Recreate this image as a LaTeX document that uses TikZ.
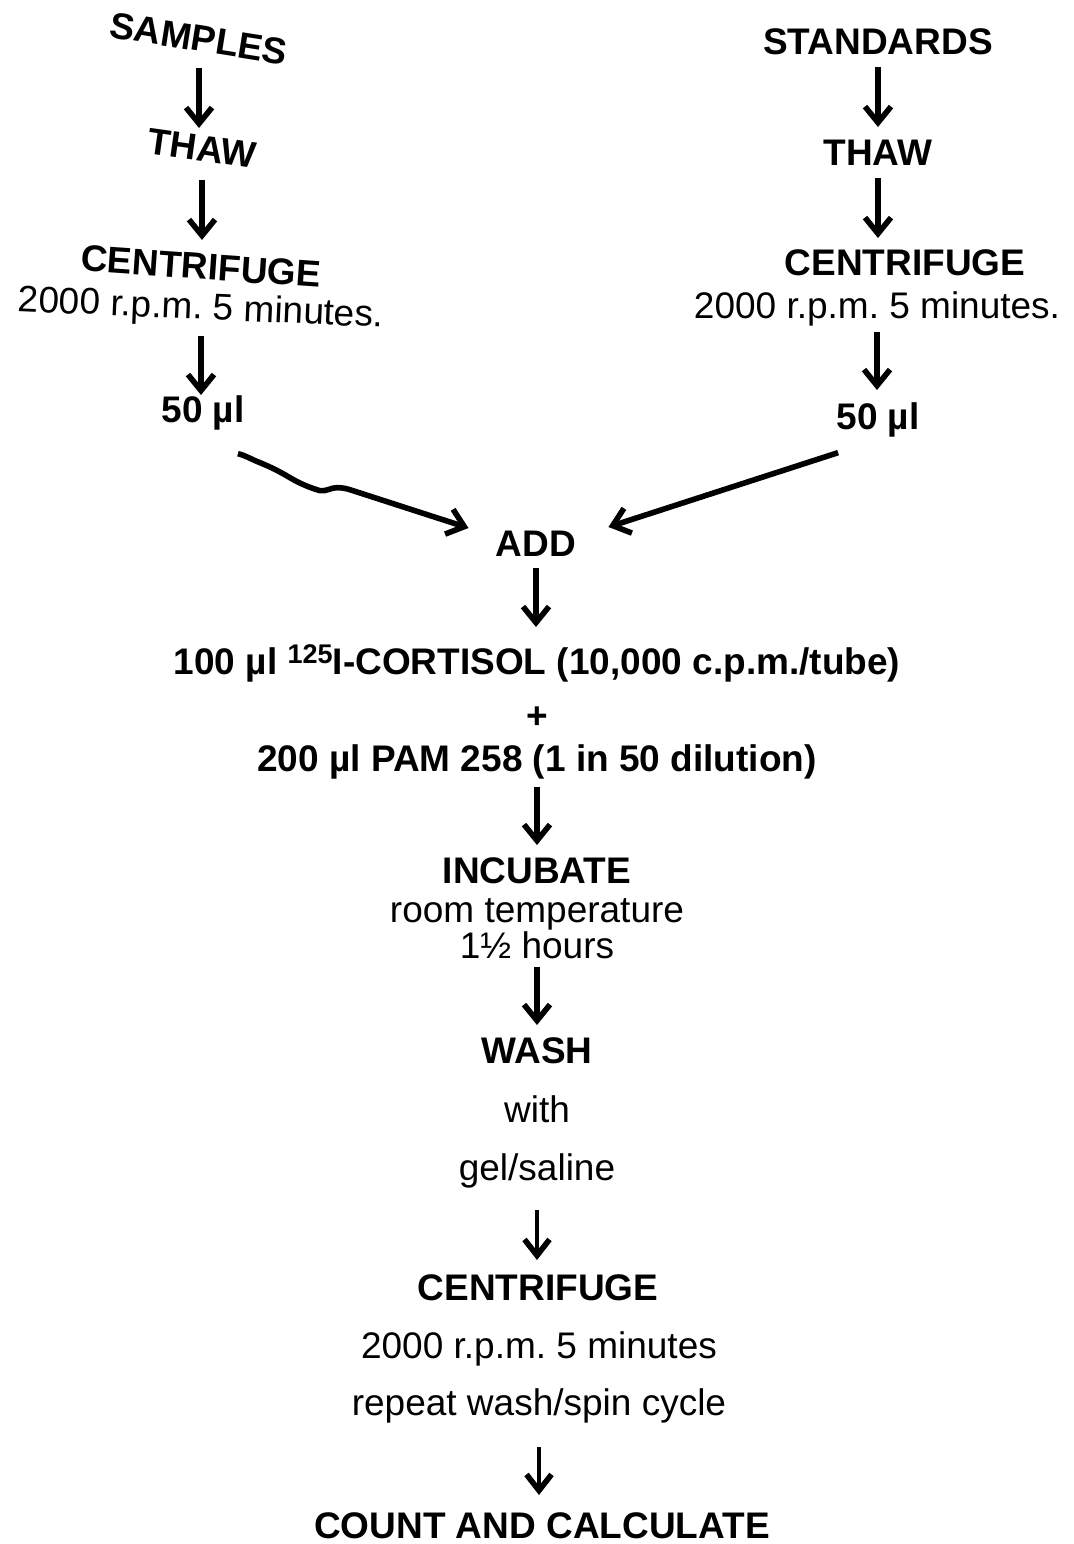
\documentclass[tikz,border=0pt]{standalone}
\usepackage{fontspec}
\setmainfont{Liberation Sans}
\usetikzlibrary{arrows.meta}
\frenchspacing

\tikzset{
  lbl/.style={font=\fontsize{18.5}{22}\selectfont\bfseries, inner sep=0pt, text height=13.25pt, text depth=0pt},
  txt/.style={font=\fontsize{18.5}{22}\selectfont, inner sep=0pt, text height=13.25pt, text depth=0pt},
  flow/.style={-{Straight Barb[length=8pt,width=13pt]}, line width=2.8pt},
  thinflow/.style={-{Straight Barb[length=8pt,width=12.5pt,line width=2.8pt]}, line width=1.9pt}
}

\begin{document}
\begin{tikzpicture}[x=0.5pt, y=-0.5pt]
\useasboundingbox (0,0) rectangle (1073,1544);

% samples branch
\node[lbl, rotate=-9] (samples) at (199,38) {SAMPLES};
\node[lbl, rotate=-8] (thawL) at (202,148) {THAW};
\node[lbl, rotate=-4] (centL) at (201,266) {CENTRIFUGE};
\node[txt, rotate=-2.5] (spinL) at (201,306) {2000 r.p.m. 5 minutes.};
\node[lbl] (volL) at (203,409) {50 µl};

% standards branch
\node[lbl] (standards) at (878,41) {STANDARDS};
\node[lbl] (thawR) at (878,152) {THAW};
\node[lbl] (centR) at (905,262) {CENTRIFUGE};
\node[txt] (spinR) at (877,305) {2000 r.p.m. 5 minutes.};
\node[lbl] (volR) at (878,416) {50 µl};

% common steps
\node[lbl] (add) at (536,543) {ADD};
\node[lbl] (tracer) at (537,661) {100 µl \raisebox{0.3em}{\fontsize{13.5}{14}\selectfont 125}I-CORTISOL (10,000 c.p.m./tube)};
\node[lbl] (plus) at (537,715) {+};
\node[lbl] (antibody) at (537,758) {200 µl PAM 258 (1 in 50 dilution)};
\node[lbl] (incubate) at (537,870) {INCUBATE};
\node[txt] (incA) at (537,909) {room temperature};
\node[txt] (incB) at (537,945) {1½ hours};
\node[lbl] (wash) at (537,1050) {WASH};
\node[txt] (washA) at (537,1109) {with};
\node[txt] (washB) at (537,1167) {gel/saline};
\node[lbl] (cent) at (538,1287) {CENTRIFUGE};
\node[txt] (centA) at (539,1345) {2000 r.p.m. 5 minutes};
\node[txt] (centB) at (539,1402) {repeat wash/spin cycle};
\node[lbl] (count) at (542,1525) {COUNT AND CALCULATE};

% arrows
\draw[flow, shorten <=15pt, shorten >=10pt] (samples.center) -- (samples.center |- thawL.center);
\draw[flow, shorten <=16pt, shorten >=13pt] (thawL.center) -- (thawL.center |- centL.center);
\draw[flow, shorten <=15pt, shorten >=7pt] (spinL.center) -- (spinL.center |- volL.center);
\draw[flow, shorten <=13pt, shorten >=12.5pt] (standards.center) -- (standards.center |- thawR.center);
\draw[flow, shorten <=13pt, shorten >=12pt] (thawR.center) -- (thawR.center |- centR.center);
\draw[flow, shorten <=13.5pt, shorten >=13pt] (spinR.center) -- (spinR.center |- volR.center);

\draw[flow] ([shift={(-7,31)}]volL.south east)
  .. controls +(8,2) and +(-10,-4) .. ++(22,9)
  .. controls +(10,4) and +(-10,-6) .. ++(30,15)
  .. controls +(10,6) and +(-10,-3) .. ++(30,13)
  .. controls +(6,1) and +(-6,0) .. ++(17,-3)
  .. controls +(6,0) and +(-6,-2) .. ++(16,3)
  -- ([shift={(-27,-15)}]add.west);
\draw[flow] ([shift={(2,23)}]volR.south west) -- ([shift={(32,-16)}]add.east);

\draw[flow, shorten <=12.5pt, shorten >=17pt] (add.center) -- (add.center |- tracer.center);
\draw[flow, shorten <=14.5pt, shorten >=12.5pt] (antibody.center) -- (antibody.center |- incubate.center);
\draw[flow, shorten <=11pt, shorten >=12.5pt] (incB.center) -- (incB.center |- wash.center);
\draw[thinflow, shorten <=21.5pt, shorten >=13.5pt] (washB.center) -- (washB.center |- cent.center);
\draw[thinflow, shorten <=22.5pt, shorten >=15pt] (centB.center) -- (centB.center |- count.center);
\end{tikzpicture}
\end{document}
